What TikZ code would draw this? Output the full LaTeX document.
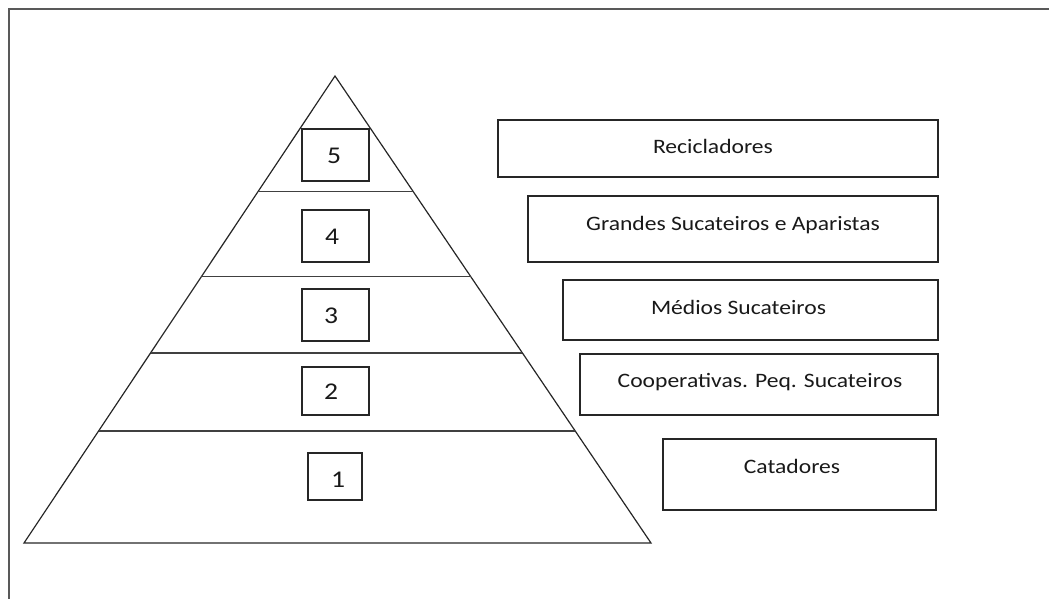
\documentclass[tikz,border=0pt]{standalone}
\usepackage{fontspec}
\setmainfont[FakeStretch=1.15]{Carlito}
\usetikzlibrary{calc}

\begin{document}
\begin{tikzpicture}[
      x=1pt, y=-1pt,
      every path/.style={line width=1.2pt},
      every node/.style={font=\fontsize{20.5}{24}\selectfont, text=black!90}
    ]
    \useasboundingbox (0,0) rectangle (1051,599);

    \tikzstyle{framed} = [draw=black!65, line width=1.5pt]
    \tikzstyle{numbox} = [draw=black!85, inner sep=0pt, minimum width=67, minimum height=52]
    \tikzstyle{numtext} = [font=\fontsize{24}{28}\selectfont]
    \tikzstyle{tierbox} = [draw=black!85, inner sep=0pt]

    % page frame (top and left only)
    \draw[framed] (9,599) -- (9,9) -- (1049,9);

    % pyramid
    \coordinate (apex) at (335,76);
    \coordinate (bl) at (24,543);
    \coordinate (br) at (651,543);
    \draw[black!85] (bl) -- (apex) -- (br) -- cycle;
    \foreach \t in {0.248, 0.430, 0.593, 0.760}
        \draw[black!75] ($(apex)!\t!(bl)$) -- ($(apex)!\t!(br)$);

    % levels
    \node[numbox, label={[numtext, shift={(-1.5pt,-1pt)}]center:5}] (lv5) at (335.5,155) {};
    \node[numbox, label={[numtext, shift={(-3.5pt,-1pt)}]center:4}] (lv4) at (335.5,236) {};
    \node[numbox, label={[numtext, shift={(-4.5pt,-1pt)}]center:3}] (lv3) at (335.5,315) {};
    \node[numbox, minimum height=48,
          label={[numtext, shift={(-4.5pt,-1pt)}]center:2}] (lv2) at (335.5,391) {};
    \node[numbox, minimum width=54, minimum height=47,
          label={[numtext, shift={(3pt,-3pt)}]center:1}] (lv1) at (335,476.5) {};

    % actors
    \node[tierbox, minimum width=440, minimum height=57,
          label={[shift={(-5pt,2.5pt)}]center:Recicladores}] (rec) at (718,148.5) {};
    \node[tierbox, minimum width=410, minimum height=66,
          label={[shift={(0pt,4pt)}]center:Grandes Sucateiros e Aparistas}] (gsa) at (733,229) {};
    \node[tierbox, minimum width=375, minimum height=60,
          label={[shift={(-12pt,3pt)}]center:Médios Sucateiros}] (med) at (750.5,310) {};
    \node[tierbox, minimum width=358, minimum height=61,
          label={[shift={(1pt,2.5pt)}]center:Cooperativas. Peq. Sucateiros}] (coop) at (759,384.5) {};
    \node[tierbox, minimum width=273, minimum height=71,
          label={[shift={(-7.5pt,8.5pt)}]center:Catadores}] (cat) at (799.5,474.5) {};
\end{tikzpicture}
\end{document}
